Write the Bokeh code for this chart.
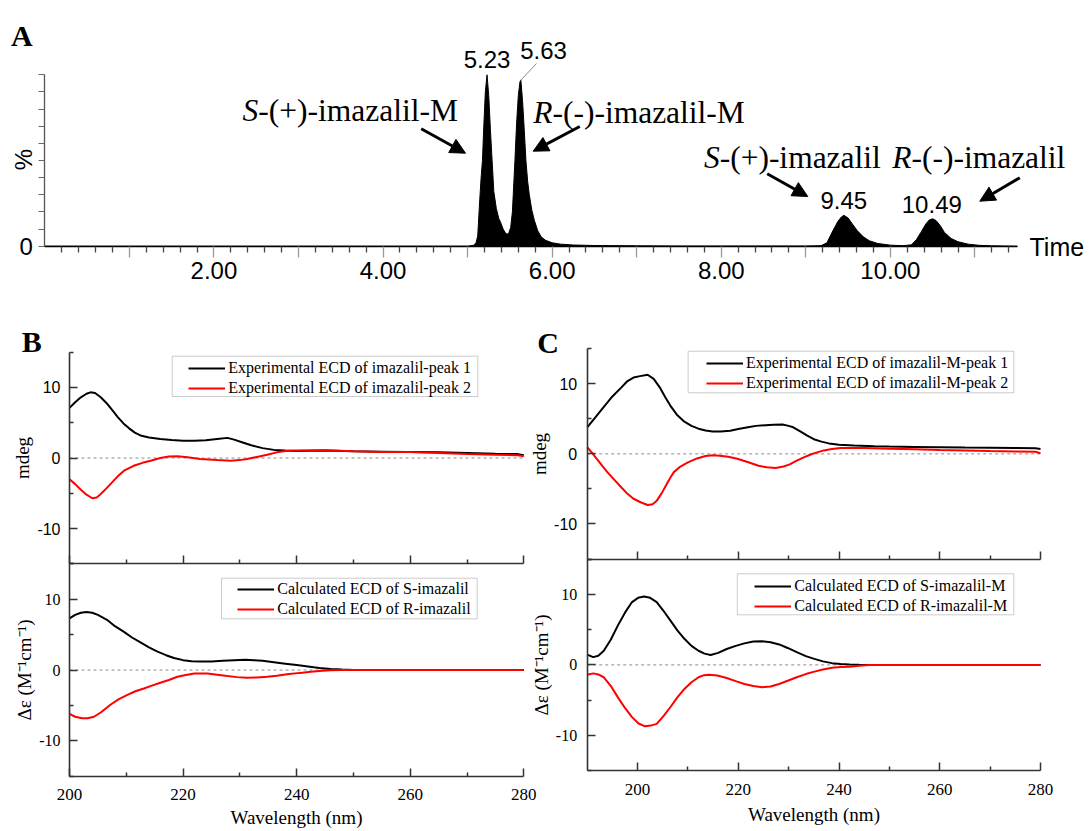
import math
from bokeh.plotting import figure
from bokeh.models import (Range1d, FixedTicker, CustomJSTickFormatter, Label, Arrow,
                          NormalHead, Legend, LegendItem, BoxAnnotation, LinearAxis)
from bokeh.embed import file_html
from bokeh.resources import INLINE

# ---------------- Panel A : chromatogram ----------------
chrom_time = [0.00, 5.00, 5.07, 5.10, 5.12, 5.145, 5.16, 5.176, 5.19, 5.21, 5.23, 5.25, 5.27,
              5.29, 5.31, 5.34, 5.37, 5.39, 5.42, 5.45, 5.47, 5.49, 5.51, 5.53, 5.54, 5.56,
              5.58, 5.60, 5.62, 5.63, 5.65, 5.67, 5.69, 5.71, 5.73, 5.76, 5.79, 5.83, 5.87,
              5.92, 6.00, 6.10, 6.25, 6.50, 7.00, 7.50, 9.00, 9.18, 9.25, 9.32, 9.38, 9.42,
              9.45, 9.50, 9.55, 9.61, 9.68, 9.75, 9.85, 10.00, 10.15, 10.25, 10.31, 10.36,
              10.42, 10.46, 10.50, 10.54, 10.59, 10.64, 10.72, 10.80, 10.92, 11.05, 11.20, 11.50]
chrom_intensity = [0, 0, 0.5, 2, 6, 28, 40, 50, 68, 90, 100, 88, 68,
                   50, 32, 22, 16, 14, 10, 7.5, 7, 8, 11, 20, 30, 50,
                   72, 88, 96, 97, 85, 68, 50, 38, 30, 21, 15, 9, 5.5,
                   3.5, 2, 1.2, 0.7, 0.4, 0.2, 0.1, 0.1, 0.3, 2, 9, 14.5, 17,
                   18, 16.5, 13, 9, 5.5, 3.2, 1.6, 0.6, 0.3, 0.8, 4, 8,
                   13, 15.3, 16, 15, 12, 8, 4.5, 2.6, 1.2, 0.5, 0.2, 0]
peak_times = [5.23, 5.63, 9.45, 10.49]
peak_labels = ["5.23", "5.63", "9.45", "10.49"]
time_label_ticks = [2, 4, 6, 8, 10]
time_unit_ticks = [1, 3, 5, 7, 9, 11]
pct_minor_ticks = [10, 20, 30, 40, 50, 60, 70, 80, 90, 100]

# ---------------- Panel B : imazalil ----------------
b_exp1_wl = [200, 201, 202, 203, 203.7, 204.5, 205.5, 206.5, 207.5, 208.5, 209.5, 210.5, 211.5,
             212.5, 214, 216, 218, 220, 222, 224, 226, 227.8, 229, 230.5, 232, 234, 236, 238,
             240, 245, 250, 255, 260, 265, 270, 275, 279, 280]
b_exp1_val = [7.1, 7.9, 8.6, 9.1, 9.3, 9.2, 8.6, 7.8, 6.8, 5.8, 4.9, 4.2, 3.6,
              3.2, 2.9, 2.7, 2.55, 2.45, 2.45, 2.5, 2.7, 2.85, 2.6, 2.2, 1.8, 1.4, 1.15, 1.05,
              1.0, 1.05, 0.95, 0.9, 0.85, 0.8, 0.7, 0.6, 0.55, 0.4]
b_exp2_wl = [200, 201, 202, 203, 204, 204.8, 205.5, 206.5, 207.2, 208.5, 209.6, 211.3, 213,
             214.3, 216, 217.5, 219, 220.8, 223, 226, 228.4, 230, 231.3, 233, 234.8, 236.5,
             238, 240, 245, 250, 255, 260, 265, 270, 275, 279, 280]
b_exp2_val = [-3.0, -3.7, -4.5, -5.2, -5.7, -5.6, -5.1, -4.3, -3.7, -2.6, -1.8, -1.1, -0.65,
              -0.4, 0.0, 0.2, 0.25, 0.1, -0.15, -0.3, -0.4, -0.3, -0.15, 0.15, 0.45, 0.8,
              1.0, 1.05, 1.1, 0.95, 0.85, 0.85, 0.7, 0.55, 0.45, 0.4, 0.25]
b_calc_s_wl = [200, 201, 202, 203, 204, 205, 206.6, 208, 209.6, 211, 212.5, 214, 215.5, 217,
               218.4, 220, 221.5, 223, 225, 227, 229, 231, 232.5, 234, 236, 238, 240, 242,
               244, 246, 248, 250, 252, 280]
b_calc_s_val = [7.3, 7.8, 8.1, 8.2, 8.1, 7.8, 7.1, 6.2, 5.4, 4.6, 3.9, 3.2, 2.6, 2.1,
                1.7, 1.4, 1.25, 1.2, 1.2, 1.3, 1.4, 1.45, 1.4, 1.3, 1.1, 0.9, 0.7, 0.5,
                0.3, 0.15, 0.07, 0.02, 0.0, 0.0]
b_calc_r_wl = [200, 201, 202.2, 203.2, 204.3, 205.5, 207.2, 208.7, 210.2, 211.6, 213.1, 214.5,
               216, 217.5, 219, 220.5, 222, 224.3, 226, 227.8, 229.5, 231.3, 233, 234.8, 236.5,
               238.3, 240.6, 242.5, 244.5, 246, 248, 280]
b_calc_r_val = [-6.2, -6.6, -6.8, -6.8, -6.6, -6.0, -4.9, -4.1, -3.5, -3.0, -2.6, -2.2,
                -1.8, -1.4, -0.95, -0.7, -0.5, -0.5, -0.65, -0.85, -1.0, -1.1, -1.05, -0.95, -0.8,
                -0.6, -0.4, -0.25, -0.1, -0.03, 0.0, 0.0]

# ---------------- Panel C : imazalil-M ----------------
c_exp1_wl = [190, 191.5, 193.3, 195, 196.8, 198, 199.2, 200.5, 202, 203.2, 204.4, 205.5, 206.5,
             207.8, 209.3, 210.7, 212.1, 213.5, 214.9, 216.5, 218.4, 220, 221.9, 223.5, 225.4,
             227, 228.8, 230, 230.9, 232.3, 233.7, 235, 236.5, 238, 240, 243, 247, 250, 255,
             260, 265, 270, 275, 279, 280]
c_exp1_val = [3.8, 5.1, 6.7, 8.2, 9.5, 10.4, 10.9, 11.1, 11.3, 10.7, 9.5, 8.1, 6.9,
              5.6, 4.6, 4.0, 3.6, 3.35, 3.2, 3.2, 3.3, 3.55, 3.8, 4.0, 4.1,
              4.15, 4.2, 4.0, 3.8, 3.2, 2.6, 2.1, 1.75, 1.5, 1.3, 1.2, 1.1, 1.05, 1.0,
              0.95, 0.9, 0.88, 0.85, 0.8, 0.7]
c_exp2_wl = [190, 190.8, 191.9, 193, 194, 195.4, 196.8, 198, 199.2, 200.6, 202, 203, 203.8,
             204.8, 205.8, 206.5, 207.2, 208.5, 210, 211.8, 213.5, 215, 216.3, 218, 219.8,
             222, 224, 225.7, 227.4, 229, 230.2, 231.5, 233, 234.5, 235.8, 237, 238.6, 240.3,
             242, 245, 250, 255, 260, 265, 270, 275, 279, 280]
c_exp2_val = [0.95, 0.3, -0.7, -1.7, -2.6, -3.7, -4.8, -5.7, -6.4, -6.9, -7.3, -7.2, -6.7,
              -5.6, -4.3, -3.4, -2.6, -1.8, -1.2, -0.65, -0.3, -0.2, -0.25, -0.4, -0.7,
              -1.2, -1.7, -1.9, -2.0, -1.8, -1.5, -1.0, -0.5, -0.05, 0.25, 0.5, 0.7, 0.85,
              0.85, 0.85, 0.75, 0.65, 0.55, 0.5, 0.4, 0.35, 0.3, 0.1]
c_calc_s_wl = [190, 191.2, 192.2, 193.3, 194.7, 196.1, 197.5, 198.9, 200.1, 201.3, 202.5, 203.8,
               205.1, 206.5, 207.9, 209.3, 210.7, 212.1, 213.3, 214.5, 216, 217.7, 219.5, 221.2,
               223, 224.7, 226.4, 228.1, 229.8, 231.6, 233.4, 235.1, 236.8, 238.6, 240.3, 242.1,
               244, 246, 280]
c_calc_s_val = [1.45, 1.1, 1.3, 2.0, 3.6, 5.6, 7.4, 8.9, 9.5, 9.7, 9.5, 8.9,
                7.7, 6.3, 4.9, 3.7, 2.7, 2.0, 1.6, 1.4, 1.7, 2.25, 2.7, 3.05,
                3.3, 3.35, 3.2, 2.9, 2.4, 1.8, 1.25, 0.85, 0.5, 0.25, 0.12, 0.05,
                0.02, 0.0, 0.0]
c_calc_r_wl = [190, 191.2, 192.2, 193.3, 194.7, 196.1, 197.5, 198.9, 200.2, 201.5, 202.6, 203.8,
               205.1, 206.5, 207.9, 209.3, 210.7, 212.1, 213.2, 214.2, 215.8, 217.7, 219.5, 221.2,
               223, 224.7, 226.4, 228.1, 229.8, 231.6, 233.4, 235.1, 236.8, 238.6, 240.3, 242.1,
               244, 246, 248, 280]
c_calc_r_val = [-1.4, -1.2, -1.35, -1.75, -3.0, -4.6, -6.1, -7.4, -8.3, -8.7, -8.6, -8.35,
                -7.3, -6.0, -4.6, -3.4, -2.45, -1.75, -1.45, -1.4, -1.5, -1.85, -2.3, -2.7,
                -3.0, -3.15, -3.05, -2.7, -2.25, -1.75, -1.3, -0.95, -0.65, -0.4, -0.3, -0.25,
                -0.12, -0.03, 0.0, 0.0]

cd_y_ticks = [-10, 0, 10]
cd_y_minor = [-15, -5, 5, 15]
cd_x_major = [200, 220, 240, 260, 280]
cd_x_minor = [210, 230, 250, 270]

A_XR, A_YR = (0, 11.5), (0, 100)
B_XR, C_XR, CD_YR = (200, 280), (190, 280), (-15, 15)

# ---------------- geometry (picture pixels) ----------------
MARGIN = 0            # the page template has no body margin: picture pixel = canvas pixel
CW, CH = 1090, 830    # canvas size


class Panel:
    """Plot-area box of one panel, given in picture pixels, plus its data ranges."""

    def __init__(self, left, top, width, height, xr, yr):
        self.l, self.t = left - MARGIN, top - MARGIN
        self.w, self.h = width, height
        self.xr, self.yr = xr, yr

    def x_ext(self):
        u = (self.xr[1] - self.xr[0]) / self.w
        return (self.xr[0] - self.l * u, self.xr[1] + (CW - self.l - self.w) * u)

    def y_ext(self):
        u = (self.yr[1] - self.yr[0]) / self.h
        return (self.yr[0] - (CH - self.t - self.h) * u, self.yr[1] + self.t * u)

    def xy(self, rx, ry):
        cx, cy = rx - MARGIN, ry - MARGIN
        x = self.xr[0] + (cx - self.l) / self.w * (self.xr[1] - self.xr[0])
        y = self.yr[1] - (cy - self.t) / self.h * (self.yr[1] - self.yr[0])
        return x, y


pA = Panel(44.3, 74.3, 972.4, 171.4, A_XR, A_YR)
pBu = Panel(69.0, 351.6, 454.3, 211.8, B_XR, CD_YR)
pBl = Panel(69.0, 563.4, 454.3, 212.3, B_XR, CD_YR)
pCu = Panel(586.7, 348.3, 453.3, 210.2, C_XR, CD_YR)
pCl = Panel(586.7, 558.5, 453.3, 211.8, C_XR, CD_YR)

p = figure(width=CW, height=CH, x_range=Range1d(*pA.x_ext()), y_range=Range1d(*pA.y_ext()),
           x_axis_location=None, y_axis_location=None, toolbar_location=None,
           output_backend="svg", min_border=0, min_border_left=0, min_border_right=0,
           min_border_top=0, min_border_bottom=0)
p.extra_x_ranges = {"xB": Range1d(*pBu.x_ext()), "xC": Range1d(*pCu.x_ext())}
p.extra_y_ranges = {"yBu": Range1d(*pBu.y_ext()), "yBl": Range1d(*pBl.y_ext()),
                    "yCu": Range1d(*pCu.y_ext()), "yCl": Range1d(*pCl.y_ext())}
p.grid.visible = False
p.outline_line_color = None
p.background_fill_color = "white"
p.border_fill_color = "white"


def add_axis(side, loc, bounds, ticks, minor, xname="default", yname="default",
             tick_in=0, tick_out=0, minor_in=0, minor_out=0, line_color="#333333",
             line_width=1.6, tick_color="#333333", minor_color="#333333", tick_width=1.5,
             fmt=None, font="Liberation Sans", size="16px", standoff=5,
             label=None, label_standoff=1, label_size="19px"):
    ax = LinearAxis(fixed_location=loc, bounds=bounds, x_range_name=xname, y_range_name=yname,
                    ticker=FixedTicker(ticks=ticks, minor_ticks=minor))
    if fmt is not None:
        ax.formatter = CustomJSTickFormatter(code=fmt)
    ax.axis_line_color = line_color
    ax.axis_line_width = line_width
    ax.major_tick_in, ax.major_tick_out = tick_in, tick_out
    ax.minor_tick_in, ax.minor_tick_out = minor_in, minor_out
    ax.major_tick_line_color = tick_color
    ax.minor_tick_line_color = minor_color
    ax.major_tick_line_width = tick_width
    ax.minor_tick_line_width = tick_width
    ax.major_label_text_font = font
    ax.major_label_text_font_size = size
    ax.major_label_text_color = "#000000"
    ax.major_label_standoff = standoff
    if label:
        ax.axis_label = label
        ax.axis_label_text_font = "Liberation Serif"
        ax.axis_label_text_font_size = label_size
        ax.axis_label_text_font_style = "normal"
        ax.axis_label_text_color = "#000000"
        ax.axis_label_standoff = label_standoff
    p.add_layout(ax, side)
    return ax


def add_text(panel, text, rx, ry, size, xname="default", yname="default",
             font="Liberation Serif", style="normal", align="left", baseline="alphabetic",
             angle=0.0, x=None):
    xd, yd = panel.xy(rx, ry)
    if x is not None:
        xd = x
    p.add_layout(Label(x=xd, y=yd, text=text, text_font=font, text_font_size=size,
                       text_font_style=style, text_align=align, text_baseline=baseline,
                       angle=angle, text_color="#000000",
                       x_range_name=xname, y_range_name=yname))


def add_arrow(panel, r0, r1, head=True, color="black", width=3.0):
    x0, y0 = panel.xy(*r0)
    x1, y1 = panel.xy(*r1)
    end = NormalHead(size=15, fill_color=color, line_color=color, line_width=1) if head else None
    p.add_layout(Arrow(end=end, x_start=x0, y_start=y0, x_end=x1, y_end=y1,
                       line_color=color, line_width=width))


# ---------------- Panel A ----------------
p.varea(x=chrom_time, y1=0, y2=chrom_intensity, fill_color="black")
p.line(chrom_time, chrom_intensity, line_color="black", line_width=1)

fifth_ticks = [round(0.2 * i, 1) for i in range(1, 58) if i % 5 != 0]
add_axis("below", A_YR[0], A_XR, time_label_ticks, fifth_ticks,
         tick_out=11, minor_out=6, line_color="black", line_width=1.5,
         tick_color="#9a9a9a", minor_color="#444444", tick_width=1.3,
         fmt="return tick.toFixed(2);", size="24px", standoff=5)
add_axis("below", A_YR[0], A_XR, [], time_unit_ticks, minor_out=11,
         line_color=None, minor_color="#9a9a9a", tick_width=1.3)
add_axis("left", A_XR[0], A_YR, [0], pct_minor_ticks, tick_out=6, minor_out=6,
         line_color="#555555", line_width=1.3, tick_color="#666666", minor_color="#666666",
         tick_width=1.2, fmt="return tick.toFixed(0);", size="24px", standoff=6)

BIG = "31.5px"
fs = 31.5
add_text(pA, "A", 10.5, 35, "30px", style="bold")
add_text(pA, "%", 23.3, 159, "24px", font="Liberation Sans", align="center",
         baseline="middle", angle=math.pi / 2)
add_text(pA, "Time", 1029, 246, "25px", font="Liberation Sans", baseline="middle")

label_pos = {"5.23": (None, 59), "5.63": (543, 50), "9.45": (None, 200), "10.49": (None, 204)}
for t, txt in zip(peak_times, peak_labels):
    rx, ry = label_pos[txt]
    add_text(pA, txt, rx if rx is not None else 0, ry, "24px", font="Liberation Sans",
             align="center", baseline="middle", x=(t if rx is None else None))

add_arrow(pA, (520, 80), (536, 63), head=False, color="#8a8a8a", width=1)

add_text(pA, "S", 242, 110, BIG, style="italic")
add_text(pA, "-(+)-imazalil-M", 242 + 0.5 * fs, 110, BIG)
add_text(pA, "R", 532.7, 112, BIG, style="italic")
add_text(pA, "-(-)-imazalil-M", 532.7 + 0.611 * fs, 112, BIG)
add_text(pA, "S", 703.4, 157, BIG, style="italic")
add_text(pA, "-(+)-imazalil", 703.4 + 0.5 * fs, 157, BIG)
add_text(pA, "R", 891.7, 157, BIG, style="italic")
add_text(pA, "-(-)-imazalil", 891.7 + 0.611 * fs, 157, BIG)

add_arrow(pA, (420.7, 128.3), (465, 152.7))
add_arrow(pA, (579.3, 126), (532.7, 150.7))
add_arrow(pA, (766.7, 173.3), (807.3, 196))
add_arrow(pA, (1019.3, 177.3), (979.3, 200.7))

# ---------------- CD panels ----------------
DELTA = "\u0394\u03b5 (M\u207b\u00b9cm\u207b\u00b9)"


def cd_panel(panel, xname, yname, upper, ylabel, ystandoff, xstandoff, xlabel_standoff,
             wl1, v1, wl2, v2, names, glyph_left, row1, box):
    xr, yr = panel.xr, panel.yr
    # dashed zero reference across the panel's wavelength range
    p.line(x=list(xr), y=[0, 0], x_range_name=xname, y_range_name=yname,
           line_color="#8c8c8c", line_dash="3 3", line_width=1)
    r1 = p.line(wl1, v1, x_range_name=xname, y_range_name=yname,
                line_color="black", line_width=2)
    r2 = p.line(wl2, v2, x_range_name=xname, y_range_name=yname,
                line_color="#ff0000", line_width=2)
    # axes (ticks pointing inwards)
    if upper:
        add_axis("below", yr[0], xr, [], cd_x_major, xname, yname, minor_in=8)
        add_axis("below", yr[0], xr, [], cd_x_minor, xname, yname, minor_in=4, line_color=None)
    else:
        add_axis("below", yr[0], xr, cd_x_major, cd_x_minor, xname, yname, tick_in=8, minor_in=4,
                 fmt="return tick.toFixed(0);", font="Liberation Serif", size="17px",
                 standoff=xstandoff, label="Wavelength (nm)", label_standoff=xlabel_standoff)
    add_axis("left", xr[0], yr, cd_y_ticks, cd_y_minor, xname, yname, tick_in=8, minor_in=4,
             fmt="return tick.toFixed(0);",
             font="Liberation Sans" if upper else "Liberation Serif", size="16px",
             standoff=ystandoff, label=ylabel, label_standoff=1)
    # legend frame + legend
    l, t, r, b = box
    x0, y0 = panel.xy(l, b)
    x1, y1 = panel.xy(r, t)
    p.add_layout(BoxAnnotation(left=x0, right=x1, bottom=y0, top=y1,
                               x_range_name=xname, y_range_name=yname,
                               fill_color=None, fill_alpha=0,
                               line_color="#555555", line_width=1))
    vx = glyph_left - MARGIN
    vy = CH - (row1 - MARGIN + 30)
    leg = Legend(items=[LegendItem(label=names[0], renderers=[r1]),
                        LegendItem(label=names[1], renderers=[r2])],
                 location=(vx, vy), padding=0, spacing=0, margin=0,
                 glyph_width=37, glyph_height=20, label_height=20, label_standoff=3,
                 border_line_color=None, background_fill_alpha=0,
                 label_text_font="Liberation Serif", label_text_font_size="16px",
                 label_text_color="#000000")
    p.add_layout(leg)


cd_panel(pBu, "xB", "yBu", True, "mdeg", 9, 13, 3,
         b_exp1_wl, b_exp1_val, b_exp2_wl, b_exp2_val,
         ["Experimental ECD of imazalil-peak 1", "Experimental ECD of imazalil-peak 2"],
         188.3, 367.7, (171.7, 355.7, 477.3, 396))
cd_panel(pBl, "xB", "yBl", False, DELTA, 9, 13, 3,
         b_calc_s_wl, b_calc_s_val, b_calc_r_wl, b_calc_r_val,
         ["Calculated ECD of S-imazalil", "Calculated ECD of R-imazalil"],
         237.3, 589.3, (221, 577.7, 476.7, 618.3))
cd_panel(pCu, "xC", "yCu", True, "mdeg", 10, 13, 6,
         c_exp1_wl, c_exp1_val, c_exp2_wl, c_exp2_val,
         ["Experimental ECD of imazalil-M-peak 1", "Experimental ECD of imazalil-M-peak 2"],
         706, 363.3, (687.6, 350.7, 1013.3, 392.3))
cd_panel(pCl, "xC", "yCl", False, DELTA, 10, 13, 6,
         c_calc_s_wl, c_calc_s_val, c_calc_r_wl, c_calc_r_val,
         ["Calculated ECD of S-imazalil-M", "Calculated ECD of R-imazalil-M"],
         754.3, 586, (736.8, 573.3, 1013.3, 614.3))

add_text(pBu, "B", 21.3, 341, "30px", xname="xB", yname="yBu", style="bold")
add_text(pCu, "C", 536.7, 341.7, "30px", xname="xC", yname="yCu", style="bold")

with open("out.html", "w") as f:
    f.write(file_html(p, INLINE, title="Imazalil chromatogram and ECD spectra"))
